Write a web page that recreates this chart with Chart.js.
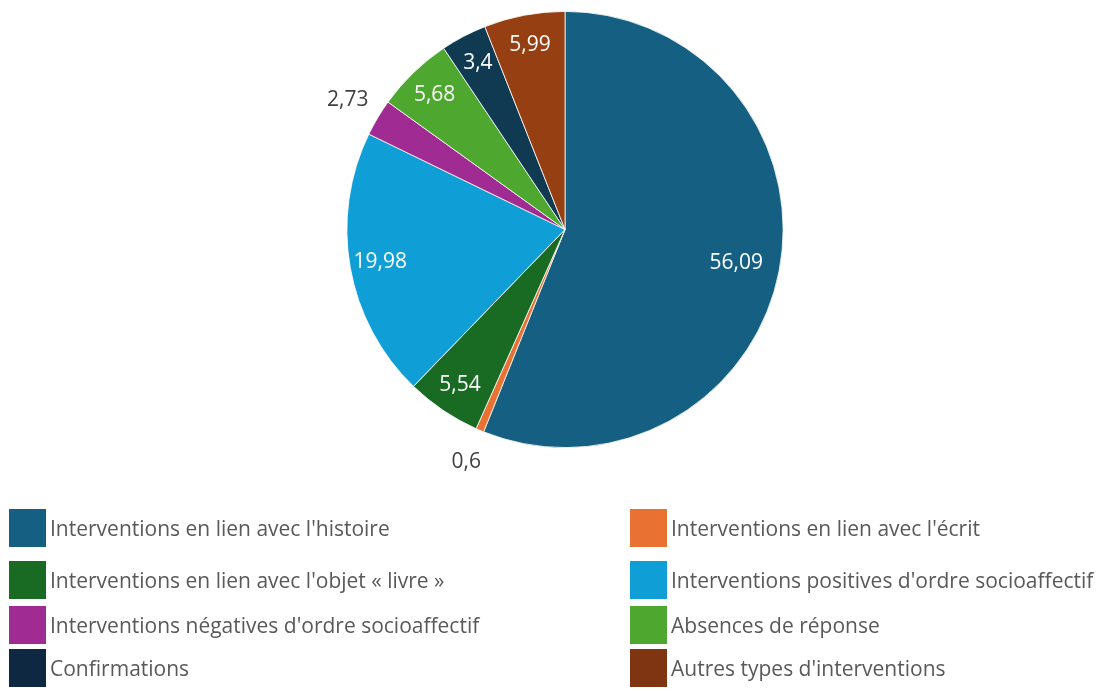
<!DOCTYPE html>
<html><head><meta charset="utf-8">
<script src="https://cdn.jsdelivr.net/npm/chart.js@4"></script>
<style>
html,body{margin:0;padding:0;background:#fff;}
#wrap{position:relative;width:1103px;height:691px;}
#c{position:absolute;left:0;top:0;}
.lg{position:absolute;display:flex;align-items:center;font-family:"Open Sans",sans-serif;font-size:21px;color:#595959;white-space:nowrap;}
.lg span.b{display:inline-block;width:37px;height:38px;margin-right:4px;}
</style></head>
<body><div id="wrap"><canvas id="c" width="1103" height="691"></canvas><div id="legend"></div></div>
<script>
const categories = [
  "Interventions en lien avec l'histoire",
  "Interventions en lien avec l'écrit",
  "Interventions en lien avec l'objet « livre »",
  "Interventions positives d'ordre socioaffectif",
  "Interventions négatives d'ordre socioaffectif",
  "Absences de réponse",
  "Confirmations",
  "Autres types d'interventions"
];
const values = [56.09, 0.6, 5.54, 19.98, 2.73, 5.68, 3.4, 5.99];
const valueLabels = ["56,09", "0,6", "5,54", "19,98", "2,73", "5,68", "3,4", "5,99"];
const sliceColors = ["#156082", "#E97132", "#196B24", "#0F9ED5", "#A02B93", "#4EA72E", "#0F3A52", "#963F12"];
const legendColors = ["#156082", "#E97132", "#196B24", "#0F9ED5", "#A02B93", "#4EA72E", "#0E2841", "#7F3512"];

const labelPlugin = {
  id: 'sliceLabels',
  afterDatasetsDraw(chart) {
    const ctx = chart.ctx;
    const meta = chart.getDatasetMeta(0);
    ctx.save();
    ctx.font = '21px "Open Sans", sans-serif';
    ctx.textAlign = 'center';
    ctx.textBaseline = 'middle';
    meta.data.forEach((arc, i) => {
      const p = arc.getProps(['x','y','startAngle','endAngle','outerRadius'], true);
      const mid = (p.startAngle + p.endAngle) / 2;
      const small = values[i] < 3;
      const big = values[i] > 50;
      const f = small ? 1.16 : (big ? 0.8 : 0.86);
      const x = p.x + Math.cos(mid) * p.outerRadius * f;
      const y = p.y + Math.sin(mid) * p.outerRadius * f;
      ctx.fillStyle = small ? '#404040' : '#ffffff';
      ctx.fillText(valueLabels[i], x, y);
    });
    ctx.restore();
  }
};

const chart = new Chart(document.getElementById('c'), {
  type: 'pie',
  data: {
    labels: categories,
    datasets: [{ data: values, backgroundColor: sliceColors, borderColor: '#ffffff', borderWidth: 0.8 }]
  },
  options: {
    responsive: false,
    animation: false,
    layout: { padding: { left: 346, right: 319, top: 11, bottom: 243 } },
    plugins: { legend: { display: false }, tooltip: { enabled: false } }
  },
  plugins: [labelPlugin]
});

const legendPos = [[9,509],[630,509],[9,561],[630,561],[9,606],[630,606],[9,649],[630,649]];
const lg = document.getElementById('legend');
categories.forEach((name, i) => {
  const d = document.createElement('div');
  d.className = 'lg';
  d.style.left = legendPos[i][0] + 'px';
  d.style.top = legendPos[i][1] + 'px';
  d.innerHTML = '<span class="b" style="background:' + legendColors[i] + '"></span>';
  d.appendChild(document.createTextNode(name));
  lg.appendChild(d);
});
</script>
</body></html>
